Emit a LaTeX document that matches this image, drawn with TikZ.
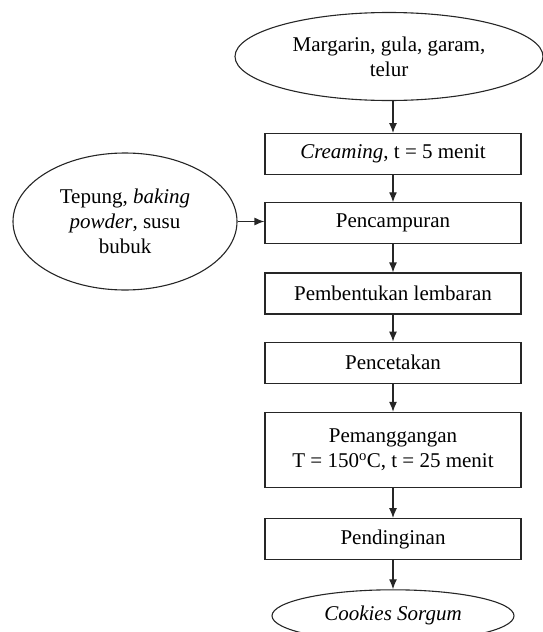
\documentclass[tikz,border=0pt]{standalone}
\usepackage{fontspec}
\setmainfont{Liberation Serif}
\usepackage{tikz}
\usetikzlibrary{arrows.meta,positioning,shapes.geometric}
\tikzset{
    %Define standard arrow tip
    >={Latex[length=10pt,width=8pt]},
    %Define style for boxes
    stepbox/.style={
           rectangle,
           draw=black!85, line width=1.2pt,
           minimum width=256pt,
           minimum height=41pt,
           align=center},
    bahanbox/.style={
           ellipse,
           draw=black!85, line width=1.1pt,
           inner sep=0pt,
           align=center},
    % Define arrow style
    pil/.style={
           ->,
           draw=black!85,
           line width=1.2pt}
}

\begin{document}
\begin{tikzpicture}[x=1pt,y=-1pt,node distance=28pt,font=\fontsize{21}{25}\selectfont]
\useasboundingbox (0,0) rectangle (543,632);

 %nodes
\node[bahanbox, minimum width=308pt, minimum height=88pt] (bahan) at (389,56.5) {Margarin, gula, garam,\\telur};
\node[stepbox, below=32pt of bahan, xshift=4pt] (creaming) {\textit{Creaming}, t = 5 menit};
\node[stepbox, below=27pt of creaming] (campur) {Pencampuran};
\node[bahanbox, minimum width=224pt, minimum height=137pt] (tepung) at (125,221.5) {Tepung, \textit{baking}\\\textit{powder}, susu\\bubuk};
\node[stepbox, below=of campur] (lembar) {Pembentukan lembaran};
\node[stepbox, below=27pt of lembar] (cetak) {Pencetakan};
\node[stepbox, below=of cetak, minimum height=75pt] (panggang) {Pemanggangan\\T = 150\textsuperscript{o}C, t = 25 menit};
\node[stepbox, below=30pt of panggang] (dingin) {Pendinginan};
\node[bahanbox, below=29pt of dingin, minimum width=242pt, minimum height=52pt] (cookies) {\textit{Cookies Sorgum}};

 %arrows
\draw[pil] (bahan.south -| creaming.north) -- (creaming);
\draw[pil] (creaming) -- (campur);
\draw[pil] (tepung.east) -- (tepung.east -| campur.west);
\draw[pil] (campur) -- (lembar);
\draw[pil] (lembar) -- (cetak);
\draw[pil] (cetak) -- (panggang);
\draw[pil] (panggang) -- (dingin);
\draw[pil] (dingin) -- (cookies);
\end{tikzpicture}
\end{document}
